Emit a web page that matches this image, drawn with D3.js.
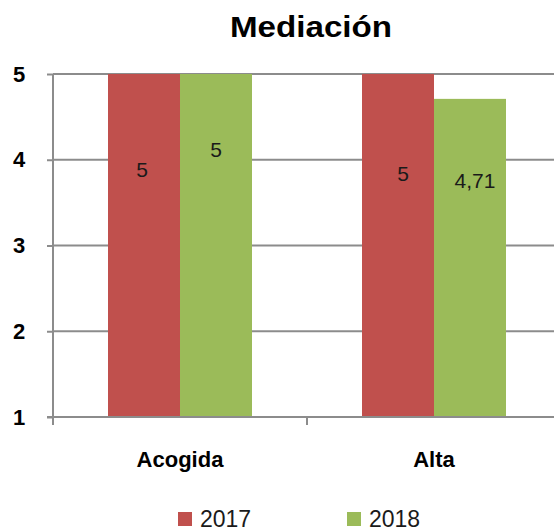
<!DOCTYPE html>
<html>
<head>
<meta charset="utf-8">
<script src="https://cdn.jsdelivr.net/npm/d3@7"></script>
<style>
  html, body { margin: 0; padding: 0; background: #fff; }
  svg { display: block; }
  text { font-family: "Liberation Sans", Arial, sans-serif; }
</style>
</head>
<body>
<svg id="chart" width="554" height="531"></svg>
<script>
// Chart data
const title = "Mediación";
const categories = ["Acogida", "Alta"];
const seriesNames = ["2017", "2018"];
const values2017 = [5, 5];
const values2018 = [5, 4.71];
const yTicks = [1, 2, 3, 4, 5];

const colors = ["#C0504D", "#9BBB59"];
const seriesValues = [values2017, values2018];

// Layout
const W = 554, H = 531;
const plot = { left: 53, right: 561, top: 74, bottom: 417 };

const svg = d3.select("#chart");

const x = d3.scaleBand()
  .domain(categories)
  .range([plot.left, plot.right])
  .paddingInner(0).paddingOuter(0);

const inner = d3.scaleBand()
  .domain(seriesNames)
  .range([0, x.bandwidth()])
  .paddingInner(0)
  .paddingOuter(0.764);

const y = d3.scaleLinear().domain([1, 5]).range([plot.bottom, plot.top]);

// Gridlines
svg.append("g")
  .selectAll("line")
  .data(yTicks.filter(t => t > 1))
  .join("line")
  .attr("x1", plot.left).attr("x2", W)
  .attr("y1", d => y(d)).attr("y2", d => y(d))
  .attr("stroke", "#8c8c8c").attr("stroke-width", 2);

// Bars
const groups = svg.append("g")
  .selectAll("g")
  .data(categories)
  .join("g")
  .attr("transform", d => `translate(${x(d)},0)`);

groups.selectAll("rect")
  .data((c, ci) => seriesNames.map((s, si) => ({ s, si, v: seriesValues[si][ci] })))
  .join("rect")
  .attr("x", d => inner(d.s))
  .attr("width", inner.bandwidth())
  .attr("y", d => y(d.v))
  .attr("height", d => y(1) - y(d.v))
  .attr("fill", d => colors[d.si]);

// Data labels (Spanish decimal comma)
const fmt = v => String(v).replace(".", ",");
const labelShift = [[[-2, 97], [0, 77]], [[5, 101], [5, 84]]];
groups.each(function (c, ci) {
  d3.select(this).selectAll("text.lbl")
    .data(seriesNames.map((s, si) => ({ s, si, v: seriesValues[si][ci] })))
    .join("text")
    .attr("class", "lbl")
    .attr("x", d => inner(d.s) + inner.bandwidth() / 2 + labelShift[ci][d.si][0])
    .attr("y", d => y(d.v) + labelShift[ci][d.si][1])
    .attr("text-anchor", "middle")
    .attr("dominant-baseline", "middle")
    .attr("font-size", 21)
    .attr("fill", "#1a1a1a")
    .text(d => fmt(d.v));
});

// Y axis
const yAxis = d3.axisLeft(y).tickValues(yTicks).tickSize(6).tickPadding(22).tickFormat(d3.format("d"));
const ya = svg.append("g").attr("transform", `translate(${plot.left},0)`).call(yAxis);
ya.select(".domain").attr("stroke", "#8c8c8c").attr("stroke-width", 2)
  .attr("d", `M0,${plot.top}V${plot.bottom + 8}`);
ya.selectAll(".tick line").attr("stroke", "#8c8c8c").attr("stroke-width", 2);
ya.selectAll(".tick text")
  .attr("font-size", 22).attr("font-weight", "bold").attr("fill", "#000")
  .attr("text-anchor", "middle").attr("x", -34)
  .attr("font-family", "Liberation Sans, Arial, sans-serif");

// X axis
const xa = svg.append("g").attr("transform", `translate(0,${plot.bottom})`)
  .call(d3.axisBottom(x).tickSize(0).tickPadding(0));
xa.select(".domain").attr("stroke", "#8c8c8c").attr("stroke-width", 2)
  .attr("d", `M${plot.left - 6},0H${W}`);
xa.selectAll(".tick text")
  .attr("dy", 0).attr("y", 50)
  .attr("font-size", 22).attr("font-weight", "bold").attr("fill", "#000")
  .attr("font-family", "Liberation Sans, Arial, sans-serif");
// Category separator ticks
xa.append("g").selectAll("line")
  .data(categories.slice(1))
  .join("line")
  .attr("x1", d => x(d)).attr("x2", d => x(d))
  .attr("y1", 0).attr("y2", 8)
  .attr("stroke", "#8c8c8c").attr("stroke-width", 2);

// Title
svg.append("text")
  .attr("x", 311).attr("y", 37)
  .attr("text-anchor", "middle")
  .attr("font-size", 30).attr("font-weight", "bold")
  .attr("textLength", 162).attr("lengthAdjust", "spacingAndGlyphs")
  .text(title);

// Legend
const legendX = [178, 347];
const legend = svg.append("g")
  .selectAll("g")
  .data(seriesNames)
  .join("g")
  .attr("transform", (d, i) => `translate(${legendX[i]},512)`);
legend.append("rect").attr("width", 14).attr("height", 14)
  .attr("fill", (d, i) => colors[i]);
legend.append("text")
  .attr("x", 22).attr("y", 15)
  .attr("font-size", 23).attr("fill", "#1a1a1a")
  .text(d => d);
</script>
</body>
</html>
